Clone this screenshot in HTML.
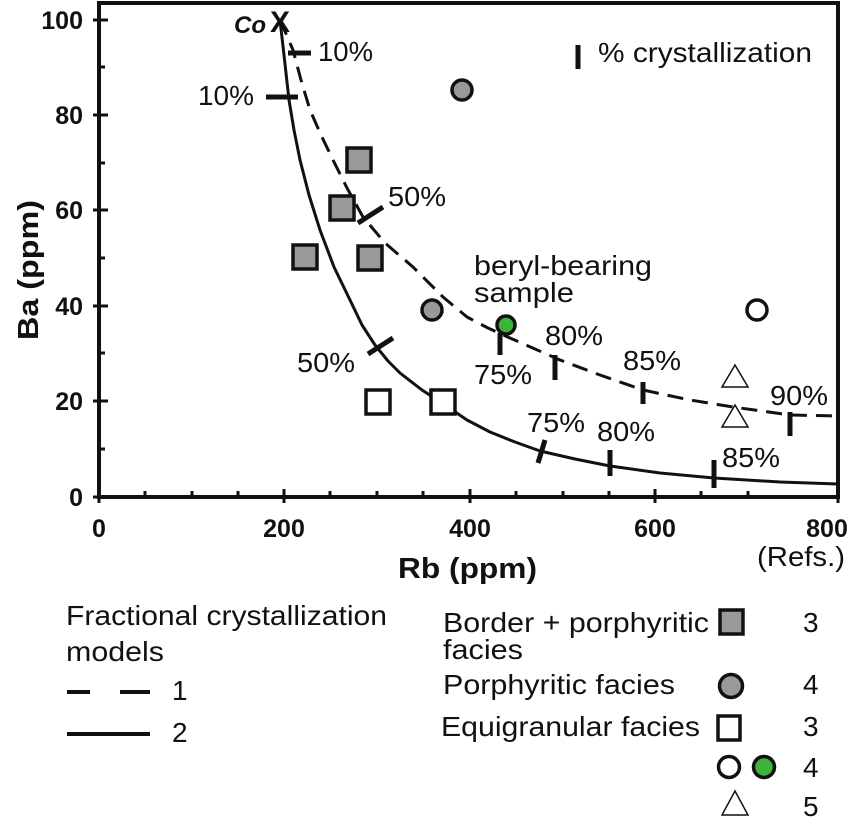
<!DOCTYPE html>
<html><head><meta charset="utf-8"><style>
html,body{margin:0;padding:0;background:#fff}
svg text{font-family:"Liberation Sans",Arial,sans-serif;fill:#111}
</style></head><body>
<svg width="861" height="819" viewBox="0 0 861 819" xmlns="http://www.w3.org/2000/svg">
<g stroke="#111" fill="none">
<rect x="99" y="3" width="739" height="494" stroke-width="4"/>
<g stroke-width="3">
<line x1="93" y1="20" x2="108" y2="20"/><line x1="99" y1="67" x2="105" y2="67"/>
<line x1="93" y1="115" x2="108" y2="115"/><line x1="99" y1="163" x2="105" y2="163"/>
<line x1="93" y1="210" x2="108" y2="210"/><line x1="99" y1="258" x2="105" y2="258"/>
<line x1="93" y1="306" x2="108" y2="306"/><line x1="99" y1="353" x2="105" y2="353"/>
<line x1="93" y1="401" x2="108" y2="401"/><line x1="99" y1="449" x2="105" y2="449"/>
<line x1="93" y1="497" x2="108" y2="497"/>
<line x1="99" y1="489" x2="99" y2="503"/><line x1="145" y1="491" x2="145" y2="497"/>
<line x1="192" y1="491" x2="192" y2="497"/><line x1="238" y1="491" x2="238" y2="497"/>
<line x1="284" y1="489" x2="284" y2="503"/><line x1="330" y1="491" x2="330" y2="497"/>
<line x1="377" y1="491" x2="377" y2="497"/><line x1="423" y1="491" x2="423" y2="497"/>
<line x1="470" y1="489" x2="470" y2="503"/><line x1="516" y1="491" x2="516" y2="497"/>
<line x1="563" y1="491" x2="563" y2="497"/><line x1="609" y1="491" x2="609" y2="497"/>
<line x1="655" y1="489" x2="655" y2="503"/><line x1="701" y1="491" x2="701" y2="497"/>
<line x1="748" y1="491" x2="748" y2="497"/><line x1="838" y1="489" x2="838" y2="503"/>
</g>
<polyline points="280,20 284,55 289,100 294,130 300,160 309,195 320,230 334,267 350,300 362,325 375,345 388,361 400,373 422,390 445,405 467,420 490,432 515,442 540,451 575,459 610,466 660,473 714,478 780,482 838,484" stroke-width="3" stroke-linejoin="round"/>
<polyline points="280,20 287,36 293,50 301,80 310,110 321,135 333,160 347,188 363,217 385,243 413,267 443,297 467,317 488,328 510,338 535,349 560,360 600,375 643,390 690,400 733,407 790,415 837,416" stroke-width="3" stroke-dasharray="16,9" stroke-linejoin="round"/>
<g stroke-width="5">
<line x1="288" y1="53" x2="311" y2="53"/>
<line x1="266" y1="97" x2="298" y2="97"/>
<line x1="358" y1="223" x2="383" y2="207"/>
<line x1="368" y1="354" x2="393" y2="338"/>
<line x1="500" y1="333" x2="500" y2="355"/>
<line x1="555" y1="355" x2="555" y2="380"/>
<line x1="643" y1="382" x2="643" y2="404"/>
<line x1="790" y1="412" x2="790" y2="436"/>
<line x1="545" y1="440" x2="538" y2="463"/>
<line x1="610" y1="450" x2="610" y2="476"/>
<line x1="714" y1="460" x2="714" y2="488"/>
<line x1="578" y1="45" x2="578" y2="69"/>
</g>
</g>
<g stroke="#111" stroke-width="3.5" fill="#999">
<rect x="347" y="148" width="24" height="24"/>
<rect x="330" y="196" width="24" height="24"/>
<rect x="293" y="245" width="24" height="24"/>
<rect x="358" y="246" width="24" height="24"/>
<circle cx="462" cy="90" r="10"/>
<circle cx="432" cy="310" r="10"/>
<circle cx="506" cy="325" r="9" fill="#3db33d"/>
<circle cx="757" cy="310" r="10" fill="#fff"/>
<rect x="366" y="390" width="24" height="24" fill="#fff"/>
<rect x="431" y="390" width="24" height="24" fill="#fff"/>
</g>
<g stroke="#111" stroke-width="1.5" fill="#fff">
<polygon points="735,365 722,387 748,387"/>
<polygon points="735,405 722,427 748,427"/>
</g>
<text x="266" y="33" font-size="24" font-weight="bold" font-style="italic" text-anchor="end">Co</text>
<text x="280" y="32" font-size="30" font-weight="bold" text-anchor="middle">X</text>
<g font-size="28">
<text x="318" y="61" textLength="55" lengthAdjust="spacingAndGlyphs">10%</text>
<text x="198" y="105" textLength="56" lengthAdjust="spacingAndGlyphs">10%</text>
<text x="388" y="206" textLength="58" lengthAdjust="spacingAndGlyphs">50%</text>
<text x="297" y="372" textLength="58" lengthAdjust="spacingAndGlyphs">50%</text>
<text x="474" y="275" textLength="178" lengthAdjust="spacingAndGlyphs">beryl-bearing</text>
<text x="474" y="302" textLength="100" lengthAdjust="spacingAndGlyphs">sample</text>
<text x="474" y="384" textLength="58" lengthAdjust="spacingAndGlyphs">75%</text>
<text x="545" y="345" textLength="58" lengthAdjust="spacingAndGlyphs">80%</text>
<text x="623" y="370" textLength="58" lengthAdjust="spacingAndGlyphs">85%</text>
<text x="770" y="405" textLength="58" lengthAdjust="spacingAndGlyphs">90%</text>
<text x="527" y="432" textLength="58" lengthAdjust="spacingAndGlyphs">75%</text>
<text x="597" y="441" textLength="58" lengthAdjust="spacingAndGlyphs">80%</text>
<text x="722" y="467" textLength="58" lengthAdjust="spacingAndGlyphs">85%</text>
<text x="598" y="62" textLength="214" lengthAdjust="spacingAndGlyphs">% crystallization</text>
</g>
<g font-size="25" font-weight="bold" text-anchor="end">
<text x="83" y="29">100</text><text x="83" y="124">80</text><text x="83" y="219">60</text>
<text x="83" y="315">40</text><text x="83" y="410">20</text><text x="83" y="506">0</text>
</g>
<g font-size="25" font-weight="bold" text-anchor="middle">
<text x="99" y="537">0</text><text x="284" y="537">200</text><text x="470" y="537">400</text>
<text x="655" y="537">600</text><text x="827" y="537">800</text>
</g>
<text x="398" y="578" font-size="29" font-weight="bold" textLength="139" lengthAdjust="spacingAndGlyphs">Rb (ppm)</text>
<text transform="translate(38,340) rotate(-90)" font-size="29" font-weight="bold" textLength="140" lengthAdjust="spacingAndGlyphs">Ba (ppm)</text>
<g font-size="28">
<text x="66" y="625" textLength="321" lengthAdjust="spacingAndGlyphs">Fractional crystallization</text>
<text x="66" y="661" textLength="98" lengthAdjust="spacingAndGlyphs">models</text>
<text x="172" y="700">1</text>
<text x="172" y="742">2</text>
<text x="757" y="566" textLength="88" lengthAdjust="spacingAndGlyphs">(Refs.)</text>
<text x="443" y="632" textLength="266" lengthAdjust="spacingAndGlyphs">Border + porphyritic</text>
<text x="443" y="659" textLength="80" lengthAdjust="spacingAndGlyphs">facies</text>
<text x="443" y="694" textLength="232" lengthAdjust="spacingAndGlyphs">Porphyritic facies</text>
<text x="441" y="736" textLength="259" lengthAdjust="spacingAndGlyphs">Equigranular facies</text>
<text x="803" y="632">3</text><text x="803" y="694">4</text><text x="803" y="736">3</text>
<text x="803" y="777">4</text><text x="803" y="816">5</text>
</g>
<g stroke="#111" stroke-width="4">
<line x1="67" y1="692" x2="90" y2="692"/><line x1="120" y1="692" x2="150" y2="692"/>
<line x1="67" y1="734" x2="150" y2="734"/>
</g>
<g stroke="#111" stroke-width="3.5" fill="#999">
<rect x="720" y="610" width="23" height="24"/>
<circle cx="731" cy="686" r="11.5"/>
<rect x="718" y="716" width="22" height="24" fill="#fff"/>
<circle cx="729" cy="767" r="10.5" fill="#fff"/>
<circle cx="764" cy="767" r="10.5" fill="#3db33d"/>
</g>
<polygon points="735,791 722,815 748,815" stroke="#111" stroke-width="1.5" fill="#fff"/>
</svg>
</body></html>
